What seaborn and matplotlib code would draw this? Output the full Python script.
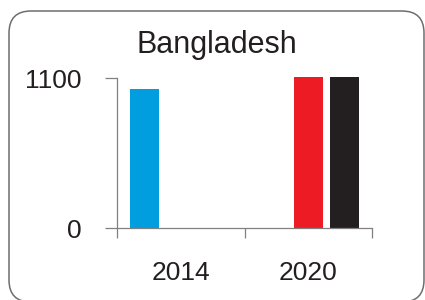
import numpy as np
import pandas as pd
import matplotlib
matplotlib.use("Agg")
import matplotlib.pyplot as plt
from matplotlib.patches import FancyBboxPatch
from matplotlib.transforms import IdentityTransform
import seaborn as sns


years = ["2014", "2020"]
series_names = ["Serie 1", "Serie 2", "Serie 3"]
serie1 = [1020, np.nan]
serie2 = [np.nan, 1110]
serie3 = [np.nan, 1110]
cores = ["#009ddf", "#ed1c24", "#231f20"]
titulo = "Bangladesh"
yticks = [0, 1100]

texto = "#231f20"
cinza = "#808080"

df = pd.DataFrame({
    "ano": years * 3,
    "serie": [s for s in series_names for _ in years],
    "valor": serie1 + serie2 + serie3,
})
df = df.dropna()

sns.set_style("white")
plt.rcParams["font.family"] = ["Liberation Sans", "DejaVu Sans"]

fig = plt.figure(figsize=(4.25, 3), dpi=100)
ax = fig.add_axes([117 / 425, 72 / 300, 255 / 425, 150 / 300])

sns.barplot(
    data=df, x="ano", y="valor", hue="serie", order=years, hue_order=series_names,
    palette=cores, width=0.85, gap=0.2, errorbar=None, legend=False,
    linewidth=0, saturation=1, ax=ax
)
for p in ax.patches:
    p.set_clip_on(False)

ax.set_xlim(-0.5, 1.5)
ax.set_ylim(0, 1100)
ax.set_xlabel("")
ax.set_ylabel("")

ax.set_yticks(yticks)
ax.set_yticklabels([str(v) for v in yticks])
ax.set_xticks([0, 1])
ax.set_xticklabels(years)
ax.set_xticks([-0.5, 0.5, 1.5], minor=True)

ax.tick_params(axis="y", which="major", length=8.6, width=0.9, color=cinza,
               direction="out", pad=17, labelsize=19, labelcolor=texto, left=True)
ax.tick_params(axis="x", which="major", length=0, pad=24, labelsize=19, labelcolor=texto)
ax.tick_params(axis="x", which="minor", length=7.2, width=0.9, color=cinza,
               direction="out", bottom=True)

for lado in ["top", "right"]:
    ax.spines[lado].set_visible(False)
for lado in ["left", "bottom"]:
    ax.spines[lado].set_color(cinza)
    ax.spines[lado].set_linewidth(0.9)

fig.text(217 / 425, 1 - 53 / 300, titulo, ha="center", va="baseline",
         fontsize=22, color=texto)

# moldura arredondada
moldura = FancyBboxPatch(
    (9, -2), 415, 291, boxstyle="round,pad=0,rounding_size=22",
    transform=IdentityTransform(), facecolor="none", edgecolor="#6d6e71",
    linewidth=1.1, clip_on=False
)
fig.patches.append(moldura)

fig.savefig("out.png", dpi=100)
